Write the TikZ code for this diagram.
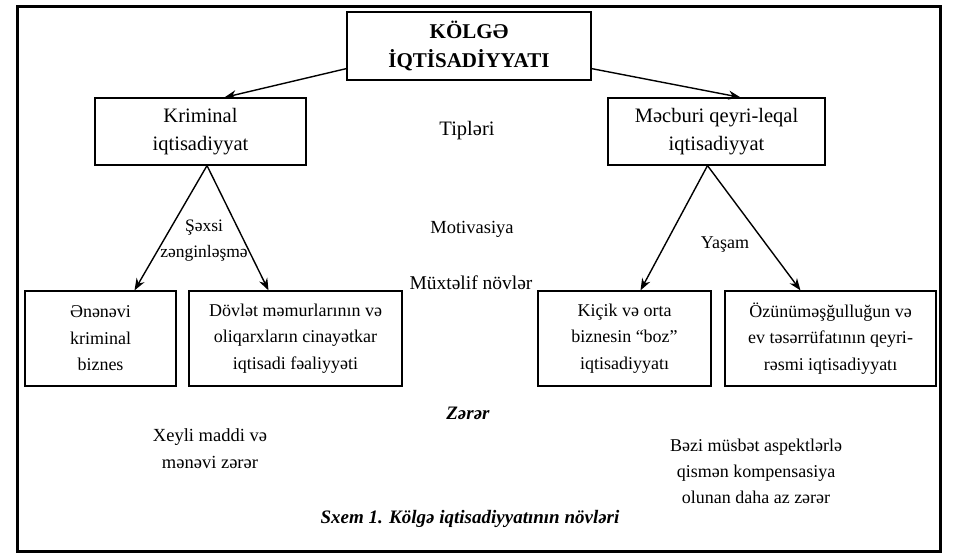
\documentclass[tikz,border=0pt]{standalone}
\usepackage{fontspec}
\setmainfont{Liberation Serif}
\usetikzlibrary{arrows.meta}
\begin{document}
\begin{tikzpicture}[x=1pt,y=-1pt,
  box/.style={draw,line width=1.2pt,align=center,inner sep=0pt,font=\fontsize{18}{26.5}\selectfont},
  tbox/.style={box,minimum height=67pt,font=\fontsize{20.5}{27.5}\selectfont},
  txt/.style={align=center,inner sep=0pt,font=\fontsize{18}{26}\selectfont},
  mid/.style={txt,font=\fontsize{19.5}{26}\selectfont},
  bit/.style={txt,font=\fontsize{19}{26}\selectfont\bfseries\itshape},
  arr/.style={line width=1.4pt,-{Stealth[length=12pt,width=9pt]}}]
\useasboundingbox (0,0) rectangle (954,559);
\draw[line width=3pt] (17,7) rectangle (940,551);
% boxes
\node[box,minimum width=244pt,minimum height=68pt,font=\fontsize{21}{29}\selectfont\bfseries] (top) at (469,46) {KÖLGƏ\\İQTİSADİYYATI};
\node[tbox,minimum width=211pt] (kl) at (200.5,131.5) {Kriminal\\iqtisadiyyat};
\node[tbox,minimum width=217pt] (kr) at (716.5,131.5) {Məcburi qeyri-leqal\\iqtisadiyyat};
\node[box,minimum width=151pt,minimum height=95pt] (b1) at (100.5,338.5) {Ənənəvi\\kriminal\\biznes};
\node[box,minimum width=213pt,minimum height=95pt] (b2) at (295.5,338.5) {Dövlət məmurlarının və\\oliqarxların cinayətkar\\iqtisadi fəaliyyəti};
\node[box,minimum width=173pt,minimum height=95pt] (b3) at (624.5,338.5) {Kiçik və orta\\biznesin “boz”\\iqtisadiyyatı};
\node[box,minimum width=211pt,minimum height=95pt] (b4) at (830.5,338.5) {Özünüməşğulluğun və\\ev təsərrüfatının qeyri-\\rəsmi iqtisadiyyatı};
% labels
\node[mid,font=\fontsize{20.5}{26}\selectfont] (tip) at (467,131) {Tipləri};
\node[mid,font=\fontsize{18.5}{26}\selectfont] (mot) at (472,229) {Motivasiya};
\node[mid] (mux) at (471,283) {Müxtəlif növlər};
\node[txt,font=\fontsize{17.5}{26}\selectfont] (sex) at (204,241) {Şəxsi\\zənginləşmə};
\node[txt] (yas) at (725,245) {Yaşam};
\node[bit] (zer) at (468,413) {Zərər};
\node[txt,font=\fontsize{18.5}{27}\selectfont] (xey) at (210,449) {Xeyli maddi və\\mənəvi zərər};
\node[txt] (bez) at (756,471) {Bəzi müsbət aspektlərlə\\qismən kompensasiya\\olunan daha az zərər};
\node[bit] (cap) at (470,519) {Sxem 1. Kölgə iqtisadiyyatının növləri};
% arrows
\draw[arr] ([yshift=12pt]top.south west) -- ([xshift=24pt]kl.north);
\draw[arr] ([yshift=12pt]top.south east) -- ([xshift=24pt]kr.north);
\draw[arr] ([xshift=6.5pt]kl.south) -- ([xshift=34pt]b1.north);
\draw[arr] ([xshift=6.5pt]kl.south) -- ([xshift=-27pt]b2.north);
\draw[arr] ([xshift=-9pt]kr.south) -- ([xshift=16pt]b3.north);
\draw[arr] ([xshift=-9pt]kr.south) -- ([xshift=-30pt]b4.north);
\end{tikzpicture}
\end{document}
